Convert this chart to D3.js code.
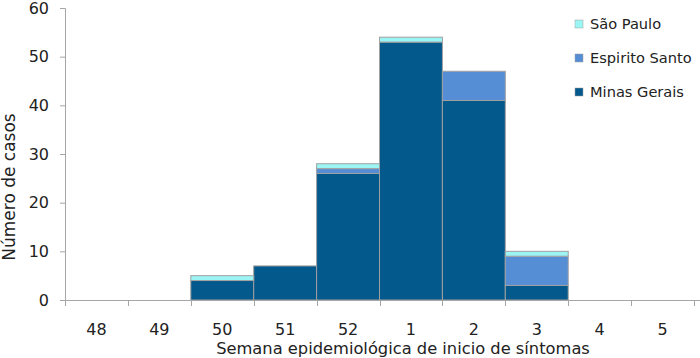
<!DOCTYPE html>
<html><head><meta charset="utf-8">
<script src="https://cdn.jsdelivr.net/npm/d3@7"></script>
<style>body{margin:0;background:#fff}svg{display:block;font-family:"DejaVu Sans",Verdana,sans-serif}</style>
</head><body><svg id="c" width="700" height="358"></svg>
<script>
const weeks = ["48","49","50","51","52","1","2","3","4","5"];
const minasGerais   = [0,0,4,7,26,53,41,3,0,0];
const espiritoSanto = [0,0,0,0,1,0,6,6,0,0];
const saoPaulo      = [0,0,1,0,1,1,0,1,0,0];
const seriesNames = ["Minas Gerais","Espirito Santo","São Paulo"];
const colors = ["#03588c","#558ed5","#9cf5f5"];
const yTicks = [0,10,20,30,40,50,60];

const svg = d3.select("#c");
const m = {left:65, top:8};
const x = d3.scaleBand().domain(weeks).range([m.left, 694]).padding(0);
const y = d3.scaleLinear().domain([0,60]).range([300, 8]);

const rows = weeks.map((w,i)=>({week:w, "Minas Gerais":minasGerais[i], "Espirito Santo":espiritoSanto[i], "São Paulo":saoPaulo[i]}));
const stack = d3.stack().keys(seriesNames)(rows);

const axisColor = "#a6a6a6";
const txt = "#222";
svg.selectAll("g.s").data(stack).join("g").attr("fill",(d,i)=>colors[i])
  .selectAll("rect").data(d=>d.filter(p=>p[1]-p[0]>0)).join("rect")
  .attr("x",d=>x(d.data.week)).attr("width",x.bandwidth())
  .attr("y",d=>y(d[1])).attr("height",d=>y(d[0])-y(d[1]))
  .attr("stroke","#a0a0a0").attr("stroke-width",1);

// y axis
const ya = svg.append("g").attr("transform",`translate(${m.left},0)`)
  .call(d3.axisLeft(y).tickValues(yTicks).tickSize(5).tickPadding(11));
ya.select(".domain").attr("stroke",axisColor);
ya.selectAll(".tick line").attr("stroke",axisColor);
ya.selectAll("text").attr("font-size",16).attr("fill",txt).attr("font-family","DejaVu Sans, Verdana, sans-serif");

// x axis
const xa = svg.append("g").attr("transform",`translate(0,${y(0)})`)
  .call(d3.axisBottom(x).tickSize(0).tickPadding(24));
xa.select(".domain").remove();
xa.selectAll("text").attr("font-size",16).attr("fill",txt).attr("font-family","DejaVu Sans, Verdana, sans-serif");
svg.append("line").attr("x1",m.left).attr("x2",700).attr("y1",y(0)+0.5).attr("y2",y(0)+0.5).attr("stroke",axisColor);
const bounds = weeks.map(w=>x(w)).concat([x(weeks[weeks.length-1])+x.bandwidth()]);
svg.selectAll("line.xt").data(bounds).join("line").attr("class","xt")
  .attr("x1",d=>Math.round(d)+0.5).attr("x2",d=>Math.round(d)+0.5)
  .attr("y1",y(0)).attr("y2",y(0)+6).attr("stroke",axisColor);

// titles
svg.append("text").attr("x",403).attr("y",354).attr("text-anchor","middle")
  .attr("font-size",16.3).attr("fill",txt).text("Semana epidemiológica de inicio de síntomas");
svg.append("text").attr("transform","translate(15,187) rotate(-90)").attr("text-anchor","middle")
  .attr("font-size",17).attr("fill",txt).text("Número de casos");

// legend
const leg = [["São Paulo",colors[2]],["Espirito Santo",colors[1]],["Minas Gerais",colors[0]]];
const lg = svg.append("g").selectAll("g").data(leg).join("g")
  .attr("transform",(d,i)=>`translate(575,${20+i*34})`);
lg.append("rect").attr("width",8).attr("height",8).attr("fill",d=>d[1]).attr("stroke","#a0a0a0").attr("stroke-width",0.5);
lg.append("text").attr("x",15).attr("y",9).attr("font-size",14.6).attr("fill",txt).text(d=>d[0]);
</script></body></html>
